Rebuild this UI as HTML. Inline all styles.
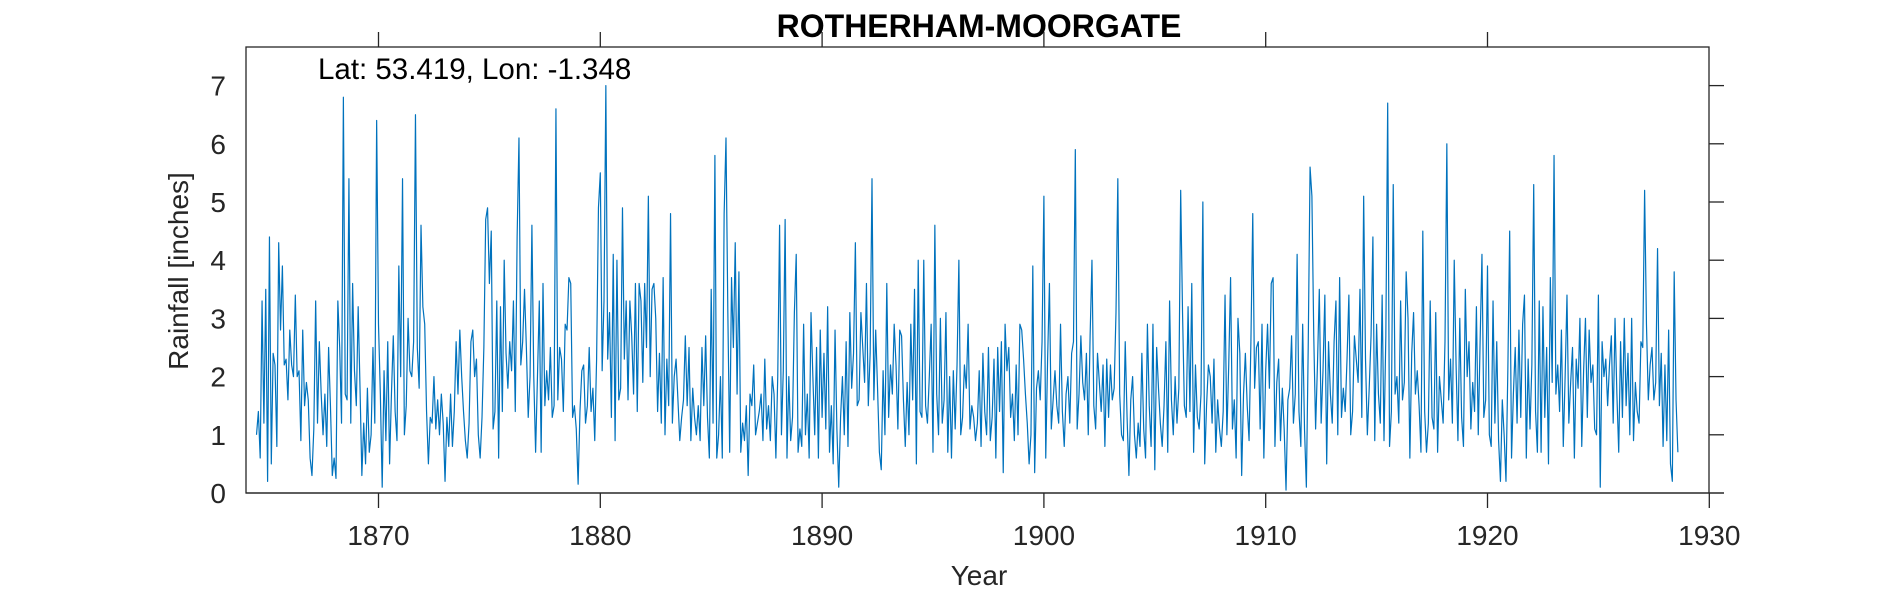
<!DOCTYPE html>
<html><head><meta charset="utf-8"><style>
body{margin:0;background:#fff;}
svg{display:block;font-family:"Liberation Sans",Arial,sans-serif;}
</style></head><body>
<svg id="chart" width="1890" height="591" viewBox="0 0 1890 591">
<text x="979" y="37" text-anchor="middle" font-size="32" font-weight="bold" fill="#000">ROTHERHAM-MOORGATE</text>
<rect x="246" y="47" width="1463" height="446" fill="none" stroke="#262626" stroke-width="1.3"/>
<text x="318" y="79" font-size="29.5" fill="#000">Lat: 53.419, Lon: -1.348</text>
<g id="xt"></g>
<g id="yt"></g>
<text x="979" y="585" text-anchor="middle" font-size="28" fill="#262626">Year</text>
<text transform="translate(188,271) rotate(-90)" text-anchor="middle" font-size="28" fill="#262626">Rainfall [inches]</text>
<path id="series" fill="none" stroke="#0072BD" stroke-width="1.2" stroke-linejoin="round"/>
</svg>
<script>
const startYear = 1864.5;
const xTicks = [1870,1880,1890,1900,1910,1920,1930];
const yTicks = [0,1,2,3,4,5,6,7];
const rainfall = [
1.0,1.4,0.6,3.3,1.2,3.5,
0.2,4.4,0.5,2.4,2.2,0.8,4.3,2.8,3.9,2.2,2.3,1.6,
2.8,2.2,2.0,3.4,2.0,2.1,0.9,2.8,1.5,1.9,1.6,0.6,
0.3,1.1,3.3,1.2,2.6,1.7,1.0,1.7,0.8,2.5,1.5,0.3,
0.6,0.25,3.3,2.5,1.2,6.8,1.7,1.6,5.4,1.2,3.6,2.1,
1.5,3.2,1.8,0.3,1.2,0.5,1.8,0.7,1.0,2.5,1.2,6.4,
2.9,1.7,0.1,2.1,0.9,2.6,0.5,1.7,2.7,1.4,0.9,3.9,
2.0,5.4,1.0,1.5,3.0,2.1,2.0,2.6,6.5,2.5,1.8,4.6,
3.2,2.9,1.4,0.5,1.3,1.2,2.0,1.1,1.6,1.0,1.7,1.2,
0.2,1.3,0.8,1.7,0.8,1.4,2.6,1.7,2.8,2.0,1.4,0.9,
0.6,1.2,2.6,2.8,2.0,2.3,1.0,0.6,1.3,2.5,4.7,4.9,
3.6,4.5,1.1,1.4,3.3,0.6,3.2,1.4,4.0,2.4,1.8,2.6,
2.1,3.3,1.4,4.4,6.1,2.2,2.6,3.5,2.5,1.3,2.0,4.6,
2.0,0.7,2.0,3.3,0.7,3.6,1.5,2.1,1.6,2.5,1.3,1.5,
6.6,1.6,2.5,2.3,1.4,2.9,2.8,3.7,3.6,1.3,1.5,1.1,
0.15,1.4,2.1,2.2,1.2,1.5,2.5,1.4,1.8,0.9,2.3,4.9,
5.5,2.1,3.3,7.0,2.3,3.1,1.3,4.1,0.9,4.0,1.6,1.8,
4.9,2.3,3.3,1.6,3.3,2.7,1.7,3.6,1.4,3.6,3.3,1.9,
3.6,2.5,5.1,2.0,3.5,3.6,3.0,1.4,2.4,1.2,3.7,1.0,
2.3,1.5,4.8,1.2,2.0,2.3,1.6,0.9,1.3,1.6,2.7,1.5,
2.5,0.9,1.8,1.3,1.0,1.5,0.9,2.5,1.5,2.7,1.3,0.6,
3.5,1.2,5.8,0.6,1.0,2.0,0.6,4.8,6.1,3.1,0.7,3.7,
2.5,4.3,1.7,3.8,0.7,1.2,0.9,1.5,0.3,1.7,1.5,2.2,
1.0,1.2,1.4,1.7,0.9,2.3,1.1,1.5,0.9,2.0,1.7,0.6,
2.0,4.6,1.0,2.1,4.7,0.6,2.0,0.9,1.3,3.1,4.1,0.7,
1.1,0.8,2.9,1.0,1.7,0.6,3.1,2.0,1.0,2.5,0.6,2.8,
1.3,2.4,1.1,3.2,0.7,1.5,0.5,2.8,1.1,0.1,1.3,2.0,
1.0,2.6,0.8,3.1,1.8,2.4,4.3,1.5,1.6,3.1,2.5,1.9,
3.6,1.5,2.4,5.4,1.6,2.8,1.8,0.7,0.4,2.1,1.0,3.6,
1.3,2.2,1.7,2.9,2.2,1.1,2.8,2.7,1.6,0.8,1.9,1.0,
2.9,1.6,3.5,0.5,4.0,1.4,1.3,4.0,1.5,1.2,2.0,2.9,
0.7,4.6,1.7,1.0,3.0,1.2,1.6,3.1,0.7,2.0,0.6,2.1,
1.1,2.2,4.0,1.0,1.3,2.2,1.8,2.9,1.1,1.5,1.3,0.9,
1.2,2.1,0.8,2.4,1.4,1.0,2.5,0.9,1.3,2.3,0.6,2.5,
1.4,2.6,0.35,2.9,2.1,2.5,1.3,1.7,0.9,2.2,1.0,2.9,
2.8,2.3,1.7,1.2,0.5,1.0,3.9,0.35,1.8,2.1,1.6,2.6,
5.1,0.6,2.3,3.6,1.1,1.6,2.1,1.5,1.2,2.9,1.4,0.8,
1.7,2.0,1.2,2.4,2.6,5.9,1.1,1.7,2.7,1.9,1.6,2.4,
1.0,2.7,4.0,1.5,1.1,2.4,1.9,1.4,2.2,0.8,2.3,1.3,
2.2,1.6,1.8,3.1,5.4,1.7,1.0,0.9,2.6,1.3,0.3,1.6,
2.0,1.0,0.6,1.2,0.8,2.4,1.1,0.6,2.9,1.5,0.8,2.9,
0.4,2.5,1.8,1.2,0.8,1.5,2.6,0.7,3.3,1.6,1.0,2.0,
1.2,1.8,5.2,3.1,1.5,1.3,3.2,1.4,3.6,0.7,2.2,1.3,
1.1,1.7,5.0,0.5,1.5,2.2,2.0,1.2,2.3,0.7,1.6,1.1,
0.8,1.4,3.4,1.0,2.2,3.7,1.1,1.6,0.6,3.0,2.4,0.3,
1.7,2.4,1.5,0.9,2.6,4.8,1.8,2.5,2.6,1.1,2.9,0.6,
2.1,2.9,1.8,3.6,3.7,0.8,1.9,2.3,0.9,1.8,1.1,0.05,
1.6,1.8,2.7,1.2,1.7,4.1,1.4,0.8,2.9,1.1,0.1,2.5,
5.6,5.1,2.7,1.1,2.2,3.5,1.2,2.1,3.4,0.5,2.6,1.7,
1.2,2.6,3.3,1.0,3.7,1.3,1.8,1.4,2.3,3.4,1.0,1.4,
2.7,2.3,1.9,3.5,1.3,5.1,2.3,1.0,1.8,2.7,4.4,0.9,
2.9,1.7,1.2,3.4,0.9,2.7,6.7,0.8,1.4,5.3,1.7,2.0,
1.2,3.3,1.6,1.9,3.8,3.0,0.6,2.4,3.1,1.7,2.1,1.5,
0.7,4.5,1.4,0.7,1.2,3.3,1.3,1.1,3.1,0.7,2.0,1.6,
1.2,2.6,6.0,1.6,2.3,1.2,4.0,2.2,0.9,3.0,1.3,0.8,
3.5,2.0,2.6,1.1,1.9,1.4,3.2,1.0,2.6,4.1,1.3,1.6,
3.9,1.0,0.8,3.3,1.2,2.6,0.9,0.2,1.6,1.0,0.2,2.1,
4.5,0.6,1.7,2.5,1.2,2.8,1.3,2.9,3.4,0.6,2.3,1.1,
2.2,5.3,1.4,0.7,3.3,0.7,3.2,1.3,2.5,0.5,3.7,1.9,
5.8,1.7,2.2,1.4,2.8,0.8,2.0,3.4,1.2,1.9,2.5,0.6,
2.3,1.8,3.0,0.8,2.1,3.0,1.3,2.8,1.9,2.2,1.1,1.0,
3.4,0.1,2.6,2.0,2.3,1.5,2.2,2.7,1.2,3.0,1.7,0.7,
2.6,1.3,3.0,1.5,2.4,1.0,3.0,0.9,1.9,1.4,1.2,2.6,
2.5,5.2,2.9,1.6,2.2,2.5,1.6,1.9,4.2,1.5,2.4,0.8,
2.2,0.9,2.8,0.5,0.2,3.8,1.6,0.7
];
const NS = "http://www.w3.org/2000/svg";
function xScale(yr){ return 378.5 + (yr - 1870) * (1709.3 - 378.5) / 60; }
function yScale(v){ return 493 - v * (493 - 85.6) / 7; }
const xt = document.getElementById('xt');
const yt = document.getElementById('yt');
function mk(tag, attrs, parent){
  const e = document.createElementNS(NS, tag);
  for (const k in attrs) e.setAttribute(k, attrs[k]);
  parent.appendChild(e);
  return e;
}
const axisLine = mk('line', {x1:246, y1:493, x2:1724, y2:493, stroke:'#262626', 'stroke-width':1.3}, xt);


xTicks.forEach(function(t){
  const x = xScale(t);
  const l = mk('line', {x1:x, y1:493, x2:x, y2:508, stroke:'#262626', 'stroke-width':1.3}, xt);
  
  
  if (t < 1930) {
    const l2 = mk('line', {x1:x, y1:32, x2:x, y2:47, stroke:'#262626', 'stroke-width':1.3}, xt);
    
    
  }
  const tx = mk('text', {x:x, y:545, 'text-anchor':'middle', 'font-size':28, fill:'#262626'}, xt);
  tx.textContent = t;
  
  
});
yTicks.forEach(function(t){
  const y = yScale(t);
  const l = mk('line', {x1:1709, y1:y, x2:1724, y2:y, stroke:'#262626', 'stroke-width':1.3}, yt);
  
  
  const tx = mk('text', {x:226, y:y + 10, 'text-anchor':'end', 'font-size':28, fill:'#262626'}, yt);
  tx.textContent = t;
  
  
});
let d = '';
rainfall.forEach(function(v, i){
  const x = xScale(startYear + i / 12);
  const y = yScale(v);
  d += (i ? 'L' : 'M') + x.toFixed(2) + ' ' + y.toFixed(2);
});
document.getElementById('series').setAttribute('d', d);
</script>
</body></html>
